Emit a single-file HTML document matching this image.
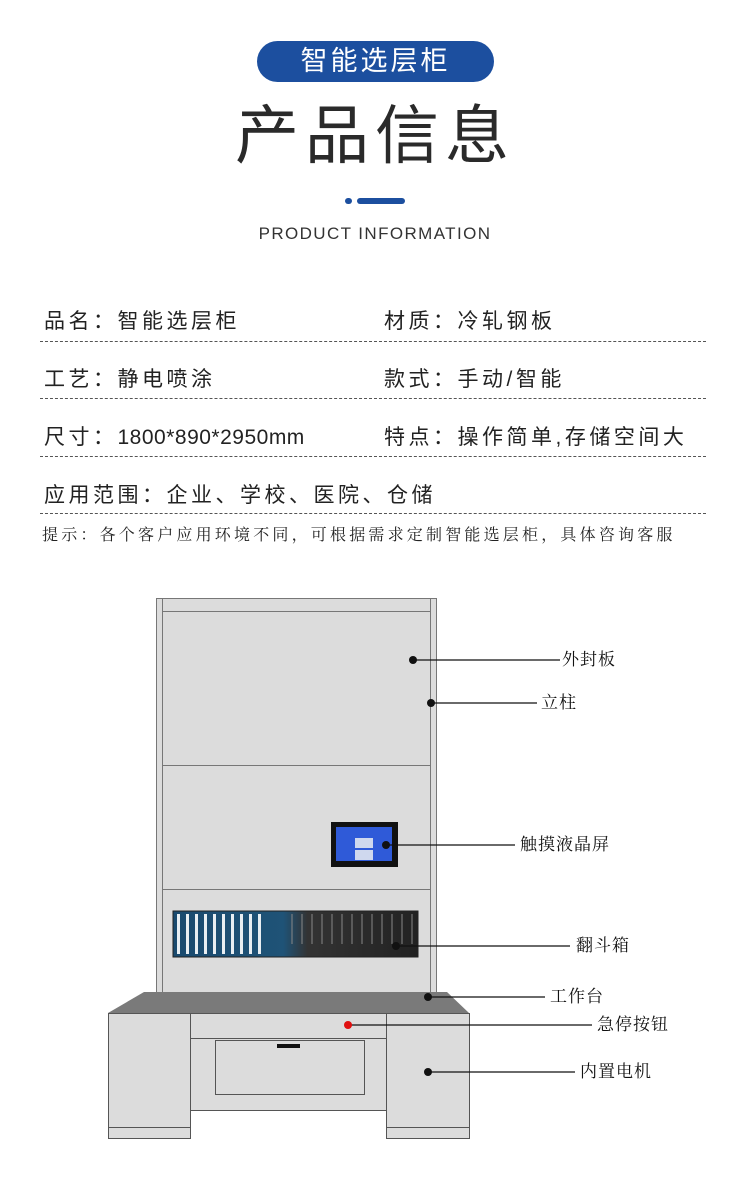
<!DOCTYPE html>
<html><head><meta charset="utf-8"><style>
*{margin:0;padding:0;box-sizing:border-box}
body{width:750px;height:1181px;background:#fff;position:relative;overflow:hidden;font-family:"Liberation Sans","Noto Sans CJK SC",sans-serif;color:#222}
.a{position:absolute;white-space:nowrap}
.pill{left:257px;top:41px;width:237px;height:41px;border-radius:21px;background:#1c4f9f;color:#fff;font-size:27px;line-height:41px;text-align:center;letter-spacing:3px}
.title{left:0;width:750px;top:96px;text-align:center;font-size:64px;line-height:80px;letter-spacing:6px;color:#2a2a2a}
.row{font-size:21px;line-height:30px;color:#222;letter-spacing:3.5px}
.dash{left:40px;width:666px;height:0;border-top:1px dashed #555}
.lb{font-size:17px;line-height:20px;color:#111;letter-spacing:1px;font-family:"Liberation Serif","Noto Serif CJK SC",serif}
</style></head><body>
<div class="a pill">智能选层柜</div>
<div class="a title">产品信息</div>
<div class="a" style="left:345px;top:198px;width:7px;height:6px;border-radius:3px;background:#1c4f9f"></div>
<div class="a" style="left:357px;top:198px;width:48px;height:6px;border-radius:3px;background:#1c4f9f"></div>
<div class="a" style="left:0;width:750px;top:224px;text-align:center;font-size:17px;line-height:20px;color:#333;letter-spacing:1.4px">PRODUCT INFORMATION</div>

<div class="a row" style="left:44px;top:307px">品名：智能选层柜</div>
<div class="a row" style="left:384px;top:307px">材质：冷轧钢板</div>
<div class="a dash" style="top:341px"></div>
<div class="a row" style="left:44px;top:365px">工艺：静电喷涂</div>
<div class="a row" style="left:384px;top:365px">款式：手动/智能</div>
<div class="a dash" style="top:398px"></div>
<div class="a row" style="left:44px;top:423px">尺寸：<span style="letter-spacing:0.5px">1800*890*2950mm</span></div>
<div class="a row" style="left:384px;top:423px">特点：操作简单,存储空间大</div>
<div class="a dash" style="top:456px"></div>
<div class="a row" style="left:44px;top:481px">应用范围：企业、学校、医院、仓储</div>
<div class="a dash" style="top:513px"></div>
<div class="a" style="left:42px;top:525px;font-size:16px;line-height:22px;color:#222;letter-spacing:3.2px;font-family:'Liberation Serif','Noto Serif CJK SC',serif">提示：各个客户应用环境不同，可根据需求定制智能选层柜，具体咨询客服</div>

<svg class="a" style="left:0;top:0" width="750" height="1181">
<defs>
<linearGradient id="bk" x1="0" y1="0" x2="1" y2="0"><stop offset="0" stop-color="#1a4a6e"/><stop offset="0.45" stop-color="#1f5377"/><stop offset="0.55" stop-color="#333"/><stop offset="1" stop-color="#222"/></linearGradient>
</defs>
<g stroke="#777" stroke-width="1" fill="#dcdcdc">
<rect x="156.5" y="598.5" width="280" height="394"/>
<rect x="162.5" y="598.5" width="268" height="394"/>
<line x1="162" y1="611.5" x2="430" y2="611.5"/>
<line x1="162" y1="765.5" x2="430" y2="765.5"/>
<line x1="162" y1="889.5" x2="430" y2="889.5"/>
</g>
<rect x="331" y="822" width="67" height="45" fill="#111"/>
<rect x="336" y="827" width="56" height="34" fill="#2f5ad8"/>
<rect x="355" y="838" width="18" height="10" fill="#cfd8ee"/>
<rect x="355" y="850" width="18" height="10" fill="#cfd8ee"/>
<rect x="173" y="911" width="245" height="46" fill="url(#bk)" stroke="#222"/>
<g fill="#e8eef2">
<rect x="177" y="914" width="3" height="40"/><rect x="186" y="914" width="3" height="40"/><rect x="195" y="914" width="3" height="40"/><rect x="204" y="914" width="3" height="40"/><rect x="213" y="914" width="3" height="40"/><rect x="222" y="914" width="3" height="40"/><rect x="231" y="914" width="3" height="40"/><rect x="240" y="914" width="3" height="40"/><rect x="249" y="914" width="3" height="40"/><rect x="258" y="914" width="3" height="40"/>
</g>
<g fill="#888" opacity="0.5">
<rect x="291" y="914" width="2" height="30"/><rect x="301" y="914" width="2" height="30"/><rect x="311" y="914" width="2" height="30"/><rect x="321" y="914" width="2" height="30"/><rect x="331" y="914" width="2" height="30"/><rect x="341" y="914" width="2" height="30"/><rect x="351" y="914" width="2" height="30"/><rect x="361" y="914" width="2" height="30"/><rect x="371" y="914" width="2" height="30"/><rect x="381" y="914" width="2" height="30"/><rect x="391" y="914" width="2" height="30"/><rect x="401" y="914" width="2" height="30"/><rect x="411" y="914" width="2" height="30"/>
</g>
<polygon points="144,992 447,992 469,1013 108,1013" fill="#7a7a7a"/>
<g stroke="#555" stroke-width="1" fill="#dcdcdc">
<rect x="108.5" y="1013.5" width="82" height="125"/>
<line x1="108" y1="1127.5" x2="190" y2="1127.5"/>
<rect x="386.5" y="1013.5" width="83" height="125"/>
<line x1="386" y1="1127.5" x2="469" y2="1127.5"/>
<rect x="190.5" y="1013.5" width="196" height="97"/>
<line x1="190" y1="1038.5" x2="386" y2="1038.5"/>
<rect x="215.5" y="1040.5" width="149" height="54"/>
</g>
<rect x="277" y="1044" width="23" height="4" fill="#111"/>
<g stroke="#111" stroke-width="1.2">
<line x1="413" y1="660" x2="560" y2="660"/>
<line x1="431" y1="703" x2="537" y2="703"/>
<line x1="386" y1="845" x2="515" y2="845"/>
<line x1="396" y1="946" x2="570" y2="946"/>
<line x1="428" y1="997" x2="545" y2="997"/>
<line x1="348" y1="1025" x2="592" y2="1025"/>
<line x1="428" y1="1072" x2="575" y2="1072"/>
</g>
<g fill="#111">
<circle cx="413" cy="660" r="4"/><circle cx="431" cy="703" r="4"/><circle cx="386" cy="845" r="4"/><circle cx="396" cy="946" r="4"/><circle cx="428" cy="997" r="4"/><circle cx="428" cy="1072" r="4"/>
</g>
<circle cx="348" cy="1025" r="4" fill="#e01010"/>
</svg>
<div class="a lb" style="left:562px;top:650px">外封板</div>
<div class="a lb" style="left:541px;top:693px">立柱</div>
<div class="a lb" style="left:520px;top:835px">触摸液晶屏</div>
<div class="a lb" style="left:576px;top:936px">翻斗箱</div>
<div class="a lb" style="left:550px;top:987px">工作台</div>
<div class="a lb" style="left:597px;top:1015px">急停按钮</div>
<div class="a lb" style="left:580px;top:1062px">内置电机</div>
</body></html>
